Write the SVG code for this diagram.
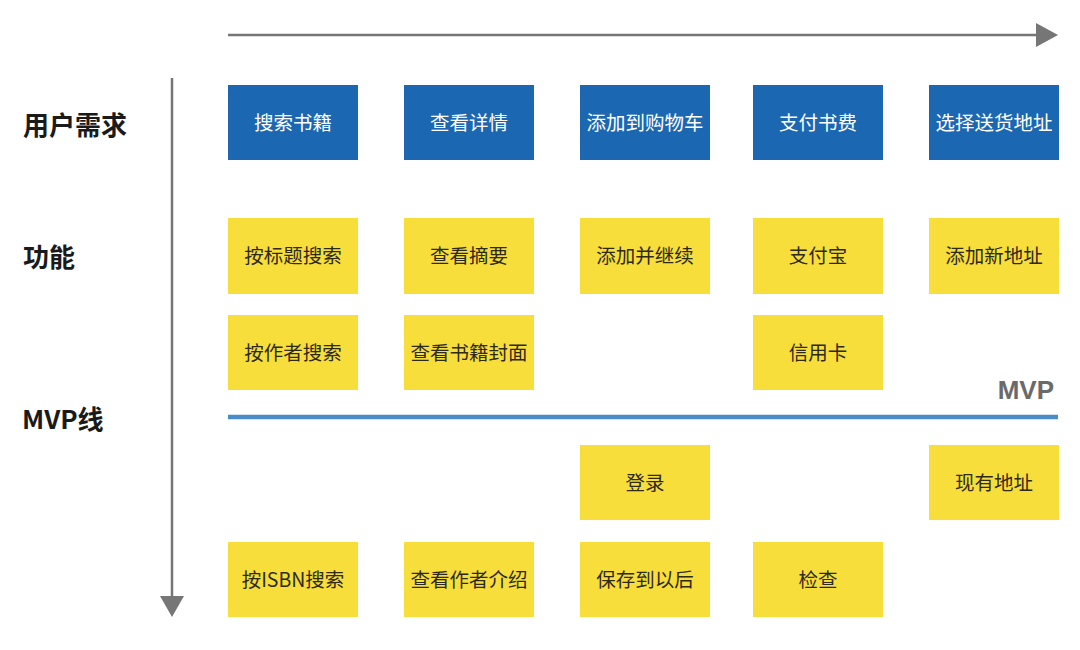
<svg xmlns="http://www.w3.org/2000/svg" width="1080" height="650" viewBox="0 0 1080 650">
<defs>
<style>
.blue{fill:#1b67b2;}
.yel{fill:#f8de3b;}
.bt{font-family:"Noto Sans CJK SC","Noto Sans",sans-serif;font-size:19.5px;fill:#ffffff;text-anchor:middle;dominant-baseline:central;}
.yt{font-family:"Noto Sans CJK SC","Noto Sans",sans-serif;font-size:19.5px;fill:#2e2a1a;text-anchor:middle;dominant-baseline:central;}
.lab{font-family:"Noto Sans CJK SC","Noto Sans",sans-serif;font-size:26px;font-weight:bold;fill:#1a1a1a;dominant-baseline:central;}
.axis{stroke:#767676;stroke-width:2.5;fill:none;}
</style>
</defs>
<rect width="1080" height="650" fill="#ffffff"/>
<g id="connectors">
<line class="axis" x1="228" y1="35" x2="1038" y2="35"/>
<polygon points="1036,23 1058,35 1036,47" fill="#767676"/>
<line class="axis" x1="172" y1="78" x2="172" y2="598"/>
<polygon points="160,596 184,596 172,617" fill="#767676"/>
<line x1="228" y1="417" x2="1058" y2="417" stroke="#4a8cc8" stroke-width="4.5"/>
</g>
<g id="labels">
<text class="lab" x="23" y="123">用户需求</text>
<text class="lab" x="23" y="255">功能</text>
<text class="lab" x="22" y="417">MVP线</text>
<text x="1054" y="399" font-family="'Liberation Sans',Arial,sans-serif" font-size="26" font-weight="bold" fill="#6a6a6a" text-anchor="end">MVP</text>
</g>
<g id="n1"><rect class="blue" x="228" y="85" width="130" height="75"/><text class="bt" x="293" y="121">搜索书籍</text></g>
<g id="n2"><rect class="blue" x="404" y="85" width="130" height="75"/><text class="bt" x="469" y="121">查看详情</text></g>
<g id="n3"><rect class="blue" x="580" y="85" width="130" height="75"/><text class="bt" x="645" y="121">添加到购物车</text></g>
<g id="n4"><rect class="blue" x="753" y="85" width="130" height="75"/><text class="bt" x="818" y="121">支付书费</text></g>
<g id="n5"><rect class="blue" x="929" y="85" width="130" height="75"/><text class="bt" x="994" y="121">选择送货地址</text></g>

<g id="f1"><rect class="yel" x="228" y="218" width="130" height="76"/><text class="yt" x="293" y="254">按标题搜索</text></g>
<g id="f2"><rect class="yel" x="404" y="218" width="130" height="76"/><text class="yt" x="469" y="254">查看摘要</text></g>
<g id="f3"><rect class="yel" x="580" y="218" width="130" height="76"/><text class="yt" x="645" y="254">添加并继续</text></g>
<g id="f4"><rect class="yel" x="753" y="218" width="130" height="76"/><text class="yt" x="818" y="254">支付宝</text></g>
<g id="f5"><rect class="yel" x="929" y="218" width="130" height="76"/><text class="yt" x="994" y="254">添加新地址</text></g>

<g id="f6"><rect class="yel" x="228" y="315" width="130" height="75"/><text class="yt" x="293" y="351">按作者搜索</text></g>
<g id="f7"><rect class="yel" x="404" y="315" width="130" height="75"/><text class="yt" x="469" y="351">查看书籍封面</text></g>
<g id="f8"><rect class="yel" x="753" y="315" width="130" height="75"/><text class="yt" x="818" y="351">信用卡</text></g>

<g id="f9"><rect class="yel" x="580" y="445" width="130" height="75"/><text class="yt" x="645" y="481">登录</text></g>
<g id="f10"><rect class="yel" x="929" y="445" width="130" height="75"/><text class="yt" x="994" y="481">现有地址</text></g>

<g id="f11"><rect class="yel" x="228" y="542" width="130" height="75"/><text class="yt" x="293" y="578">按ISBN搜索</text></g>
<g id="f12"><rect class="yel" x="404" y="542" width="130" height="75"/><text class="yt" x="469" y="578">查看作者介绍</text></g>
<g id="f13"><rect class="yel" x="580" y="542" width="130" height="75"/><text class="yt" x="645" y="578">保存到以后</text></g>
<g id="f14"><rect class="yel" x="753" y="542" width="130" height="75"/><text class="yt" x="818" y="578">检查</text></g>
</svg>
